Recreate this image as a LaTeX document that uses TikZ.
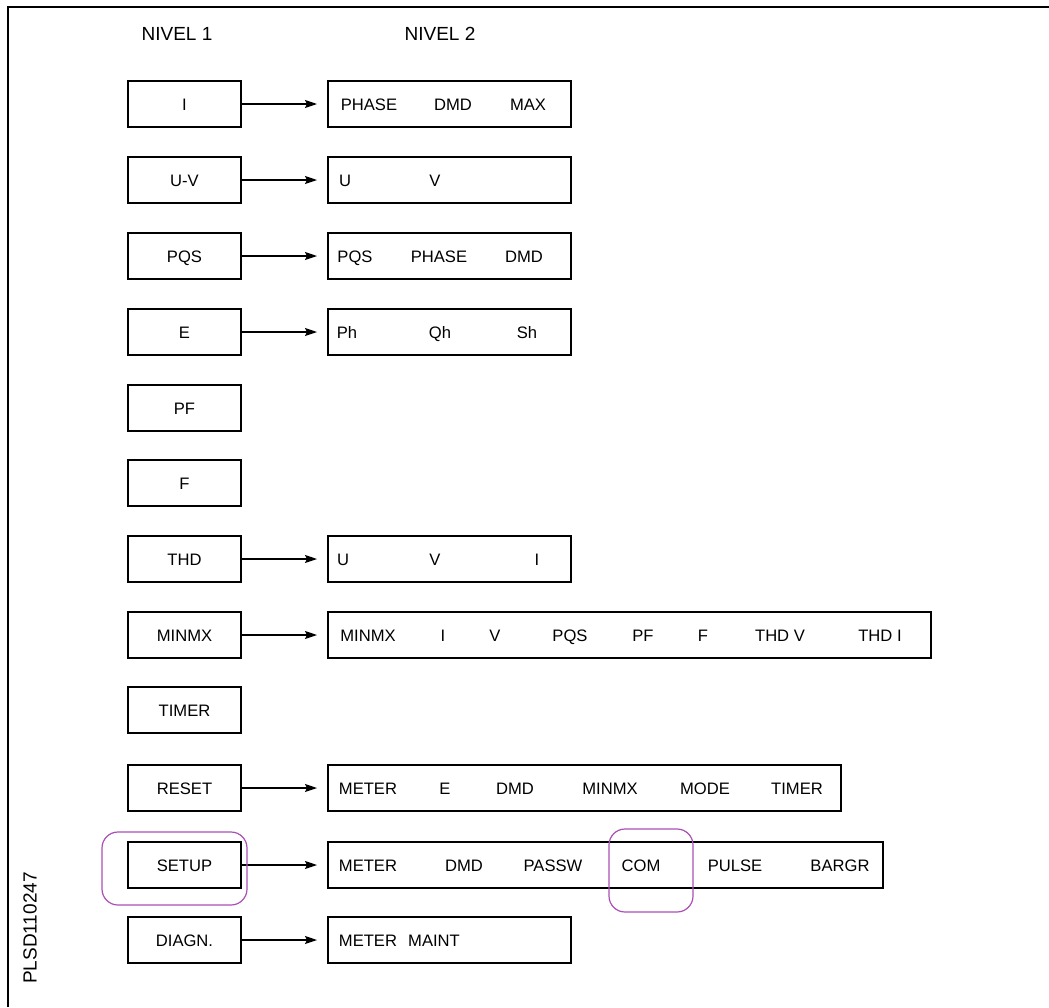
\documentclass[tikz,border=0pt]{standalone}
\usepackage{fontspec}
\setmainfont{Liberation Sans}
\usetikzlibrary{arrows,arrows.meta}
\definecolor{hlpurple}{RGB}{170,80,180}

\begin{document}
\begin{tikzpicture}
  [
    x=0.5pt, y=-0.5pt,
    lvone/.style={draw, line width=0.75pt, minimum width=56.5pt, minimum height=23pt, inner sep=0pt,
      text height=1.6ex, text depth=0.3ex, font=\fontsize{8.3}{9}\selectfont},
    lvtwo/.style={draw, line width=0.75pt, anchor=west, minimum height=23pt, inner sep=0pt},
    itm/.style={inner sep=0pt, text height=1.6ex, text depth=0.3ex, font=\fontsize{8.3}{9}\selectfont},
    hdr/.style={inner sep=0pt, font=\fontsize{9.5}{11}\selectfont}
  ]
  \useasboundingbox (0, 0) rectangle (1049, 1007);
  \draw [line width=1pt] (8, 1007) -- (8, 7) -- (1049, 7);

  \node [hdr] at (177, 34) (nv1) {NIVEL 1};
  \node [hdr] at (440, 34) (nv2) {NIVEL 2};

  \foreach \lbl/\yy [count=\idx] in {I/104, U-V/180, PQS/256, E/332, PF/408, F/483,
      THD/559, MINMX/635, TIMER/710, RESET/788, SETUP/865, DIAGN./940}{
    \node [lvone] at (184.5, \yy) (a\idx) {\lbl};
  }

  \foreach \idx/\yy/\rgt/\items in {
      1/104/570/{PHASE/369, DMD/453, MAX/528},
      2/180/570/{U/345, V/435},
      3/256/570/{PQS/355, PHASE/439, DMD/524},
      4/332/570/{Ph/347, Qh/440, Sh/527},
      7/559/570/{U/343, V/435, I/537},
      8/635/930/{MINMX/368, I/443, V/495, PQS/570, PF/643, F/703, THD V/780, THD I/880},
      10/788/840/{METER/368, E/445, DMD/515, MINMX/610, MODE/705, TIMER/797},
      11/865/882/{METER/368, DMD/464, PASSW/553, COM/641, PULSE/735, BARGR/840},
      12/940/570/{METER/368, MAINT/434}}{
    \node [lvtwo, minimum width={(\rgt-327)*0.5pt}] at (327, \yy) (b\idx) {};
    \foreach \txt/\cx [count=\k] in \items
      \node [itm] at (\cx, \yy) (t\idx-\k) {\txt};
    \draw [->, >={Stealth[length=6pt, width=4pt, inset=1pt]}, line width=0.6pt, shorten >=5pt] (a\idx.east) -- (b\idx.west);
  }

  % highlights
  \draw [hlpurple, line width=0.6pt, rounded corners=8pt] (102, 832) rectangle (247, 905);
  \draw [hlpurple, line width=0.6pt, rounded corners=8pt] (609, 829) rectangle (693, 912);

  \node [hdr, rotate=90] at (30, 928) (code) {PLSD110247};

\end{tikzpicture}
\end{document}
